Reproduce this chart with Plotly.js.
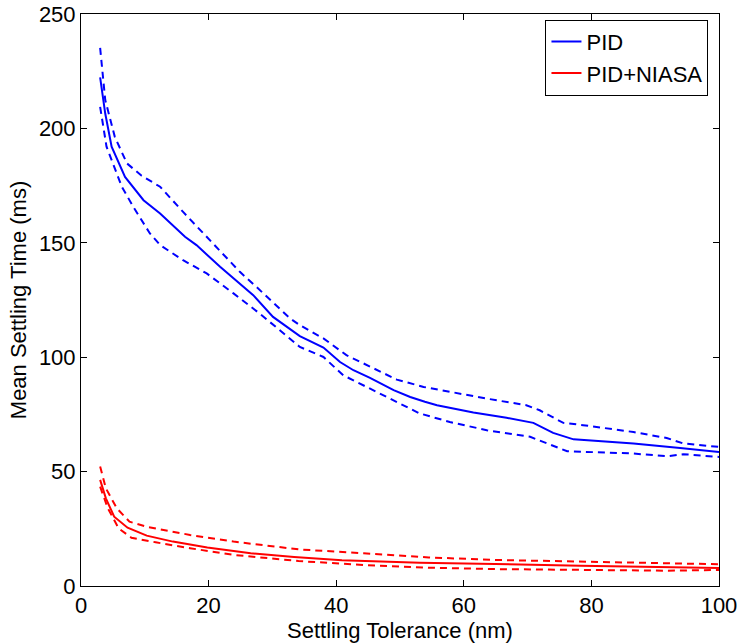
<!DOCTYPE html>
<html>
<head>
<meta charset="utf-8">
<script src="https://cdn.plot.ly/plotly-3.0.1.min.js"></script>
<style>html,body{margin:0;padding:0;background:#fff;}#chart{width:741px;height:643px;}</style>
</head>
<body>
<div id="chart"></div>
<script>
// PID mean and bounds
const pidMeanX = [3.0, 3.8, 4.8, 6.9, 9.8, 12.4, 16.3, 18.1, 21.8, 27.0, 30.1, 34.3, 38.0, 40.6, 42.7, 45.3, 49.0, 51.6, 53.9, 55.8, 61.5, 66.7, 70.9, 74.0, 77.2, 86.6, 93.9, 100];
const pidMeanY = [222.3, 206.5, 192, 178.8, 168.6, 162.8, 152.6, 149, 139.5, 127.1, 117.6, 109.2, 104.2, 97.9, 94.3, 91, 85.6, 82.6, 80.5, 79, 75.8, 73.5, 71.3, 66.9, 64.1, 62.3, 60.3, 58.6];
const pidUpperX = [3.0, 3.8, 5.3, 7.2, 9.5, 12.4, 16.0, 20.2, 24.9, 27.5, 32.8, 34.3, 38.0, 41.6, 45.3, 49.5, 53.7, 57.8, 63.6, 69.8, 71.9, 75.6, 78.7, 86.6, 91.8, 94.4, 100];
const pidUpperY = [235.2, 212.4, 196.3, 184.7, 179.3, 174.5, 163.5, 151.2, 137.3, 130.7, 116.9, 114, 108.2, 100.9, 95.8, 90.2, 87, 84.8, 81.9, 79, 76.8, 71.3, 70.3, 67.3, 64.7, 62.3, 60.8];
const pidLowerX = [3.0, 4.0, 6.4, 8.2, 10.8, 12.4, 16.0, 19.7, 23.9, 28.0, 34.3, 38.0, 41.1, 44.8, 50.0, 53.1, 57.8, 63.6, 70.4, 73.0, 76.2, 86.6, 91.8, 94.4, 100];
const pidLowerY = [209.4, 192, 174.5, 165.7, 154.1, 149, 142.4, 136.6, 127.9, 119.1, 104.5, 100.1, 92.1, 87, 79.8, 75.4, 71.7, 68.1, 65.2, 62.3, 58.9, 57.9, 56.7, 57.6, 56.4];

// PID+NIASA mean and bounds
const niasaMeanX = [3.0, 3.9, 5.2, 7.3, 10.3, 14.4, 19.8, 26.6, 33.4, 40.9, 53.1, 64.7, 78.3, 100];
const niasaMeanY = [46.4, 38.3, 30.3, 25.5, 22, 19.4, 16.8, 14.3, 12.7, 11.2, 10.2, 9.5, 8.9, 7.9];
const niasaUpperX = [3.0, 3.9, 5.6, 7.6, 10.3, 17.1, 23.9, 34.1, 44.3, 54.5, 64.7, 78.3, 91.8, 100];
const niasaUpperY = [52.2, 42.7, 34, 28.1, 25.9, 22.3, 19.4, 16, 14.3, 12.5, 11.4, 10.6, 9.8, 9.5];
const niasaLowerX = [3.0, 4.2, 5.9, 7.9, 11.7, 17.1, 23.9, 34.1, 44.3, 54.5, 64.7, 78.3, 91.8, 100];
const niasaLowerY = [43.4, 34, 25.2, 21.1, 19.1, 16.5, 13.6, 10.9, 9.2, 8, 7.4, 7, 6.7, 7];

const xTicks = [0, 20, 40, 60, 80, 100];
const yTicks = [0, 50, 100, 150, 200, 250];

const BLUE = '#0000ff', RED = '#ff0000';
const dashStyle = '7px,5px';

const traces = [
  {x: pidMeanX, y: pidMeanY, name: 'PID', mode: 'lines', line: {color: BLUE, width: 2}},
  {x: niasaMeanX, y: niasaMeanY, name: 'PID+NIASA', mode: 'lines', line: {color: RED, width: 2}},
  {x: pidUpperX, y: pidUpperY, mode: 'lines', showlegend: false, line: {color: BLUE, width: 2, dash: dashStyle}},
  {x: pidLowerX, y: pidLowerY, mode: 'lines', showlegend: false, line: {color: BLUE, width: 2, dash: dashStyle}},
  {x: niasaUpperX, y: niasaUpperY, mode: 'lines', showlegend: false, line: {color: RED, width: 2, dash: dashStyle}},
  {x: niasaLowerX, y: niasaLowerY, mode: 'lines', showlegend: false, line: {color: RED, width: 2, dash: dashStyle}}
];

const fontFam = 'Liberation Sans, Arial, Helvetica, sans-serif';
const axisCommon = {
  showline: true, linecolor: '#000', linewidth: 1, mirror: 'ticks',
  ticks: 'inside', ticklen: 6, tickcolor: '#000', tickwidth: 1,
  showgrid: false, zeroline: false,
  tickfont: {family: fontFam, size: 22, color: '#000'}
};

const layout = {
  width: 741, height: 643,
  margin: {l: 81, r: 22, t: 14, b: 57},
  paper_bgcolor: '#fff', plot_bgcolor: '#fff',
  font: {family: fontFam, color: '#000'},
  showlegend: true,
  xaxis: Object.assign({}, axisCommon, {
    range: [0, 100], tickvals: xTicks, ticktext: xTicks.map(String),
    title: {text: 'Settling Tolerance (nm)', font: {family: fontFam, size: 22, color: '#000'}, standoff: 0}
  }),
  yaxis: Object.assign({}, axisCommon, {
    range: [0, 250], tickvals: yTicks, ticktext: yTicks.map(String),
    title: {text: 'Mean Settling Time (ms)', font: {family: fontFam, size: 22, color: '#000'}, standoff: 6}
  }),
  legend: {
    x: 0.728, y: 0.99, xanchor: 'left', yanchor: 'top',
    bgcolor: '#fff', bordercolor: '#000', borderwidth: 1,
    font: {family: fontFam, size: 22, color: '#000'},
    tracegroupgap: 0, itemwidth: 30
  }
};

Plotly.newPlot('chart', traces, layout, {displayModeBar: false, staticPlot: true});
</script>
</body>
</html>
